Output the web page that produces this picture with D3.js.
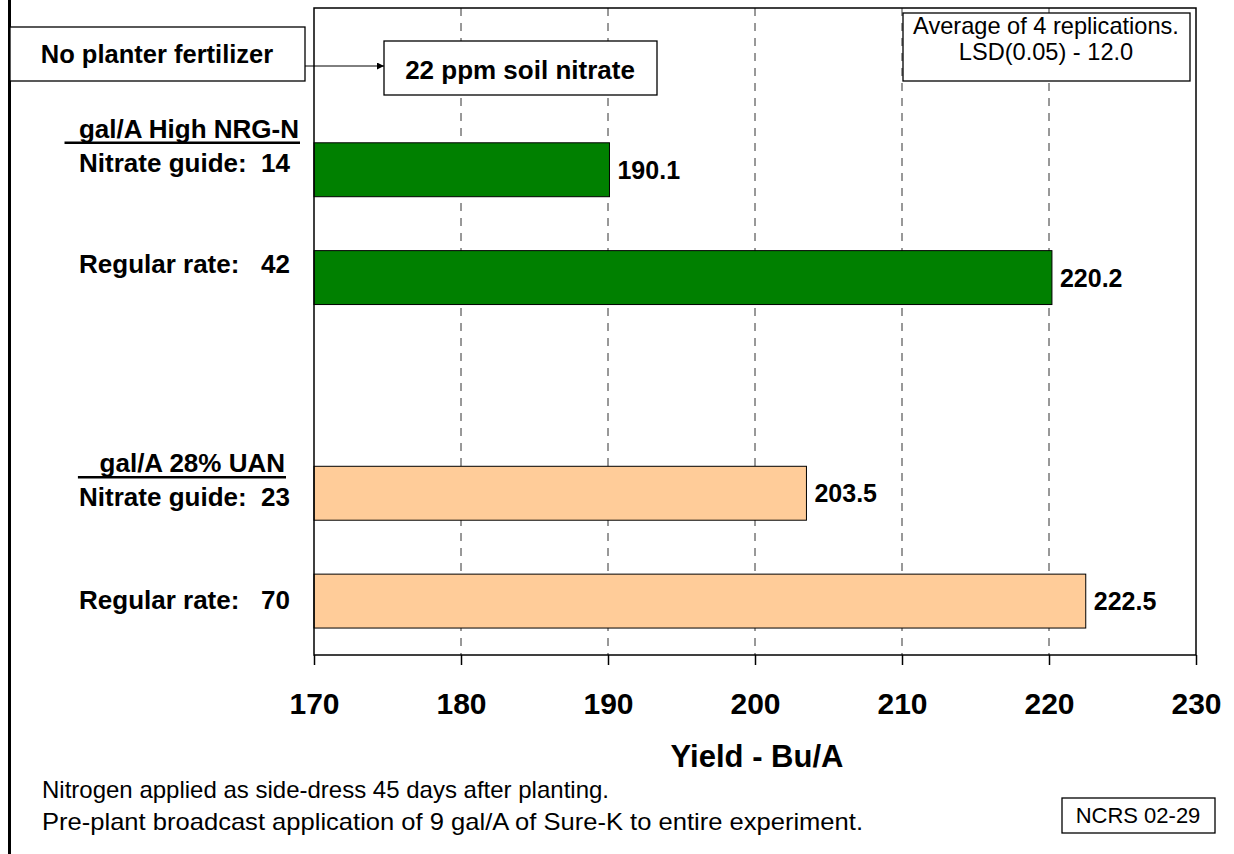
<!DOCTYPE html>
<html>
<head>
<meta charset="utf-8">
<script src="https://cdn.jsdelivr.net/npm/d3@7"></script>
<style>
  body { margin: 0; background: #fff; }
  svg { display: block; font-family: "Liberation Sans", Arial, sans-serif; }
  text { white-space: pre; }
</style>
</head>
<body>
<div id="chart"></div>
<script>
// Yield response to side-dress N, NCRS 02-29

// Band slots down the plot (blank slots leave the gaps between groups)
const slots = ["top", "nrgGuide", "nrgRegular", "gap", "uanGuide", "uanRegular"];

// One entry per bar
const barSlots  = ["nrgGuide", "nrgRegular", "uanGuide", "uanRegular"];
const barLabels = ["Nitrate guide:  14", "Regular rate:   42", "Nitrate guide:  23", "Regular rate:   70"];
const yields    = [190.1, 220.2, 203.5, 222.5];
const barColors = ["#008000", "#008000", "#ffcc99", "#ffcc99"];

// Group headings sit above the first bar of each group
const groupHeads = ["  gal/A High NRG-N", "   gal/A 28% UAN"];
const groupFirst = ["nrgGuide", "uanGuide"];

const xTicks = [170, 180, 190, 200, 210, 220, 230];
const noteLines = [
  "Nitrogen applied as side-dress 45 days after planting.",
  "Pre-plant broadcast application of 9 gal/A of Sure-K to entire experiment."
];
const statLines = ["Average of 4 replications.", "LSD(0.05) - 12.0"];

// Layout
const W = 1234, H = 854;
const plot = { left: 314, right: 1196, top: 8, bottom: 655 };
// small nudges for the hand placed text boxes in the original
const labelDy = [2, -5, 13, 8];
const headDy  = [-5, 6];
const headEnd = [299, 285];
const noteWidth = [567, 821];

const svg = d3.select("#chart").append("svg")
  .attr("width", W)
  .attr("height", H);

const x = d3.scaleLinear()
  .domain([xTicks[0], xTicks[xTicks.length - 1]])
  .range([plot.left, plot.right]);

const y = d3.scaleBand()
  .domain(slots)
  .range([plot.top, plot.bottom])
  .paddingInner(0.5)
  .paddingOuter(0.25);

// Thick rule down the left edge of the page
svg.append("line")
  .attr("x1", 9.5).attr("x2", 9.5)
  .attr("y1", 0).attr("y2", H)
  .attr("stroke", "#000")
  .attr("stroke-width", 3);

// Dashed gridlines
svg.append("g")
  .selectAll("line")
  .data(xTicks.slice(1, -1))
  .join("line")
  .attr("x1", d => x(d)).attr("x2", d => x(d))
  .attr("y1", plot.top).attr("y2", plot.bottom)
  .attr("stroke", "#333")
  .attr("stroke-width", 1)
  .attr("stroke-dasharray", "8,7");

// Bars
svg.append("g")
  .selectAll("rect")
  .data(yields)
  .join("rect")
  .attr("x", x(xTicks[0]))
  .attr("y", (d, i) => y(barSlots[i]))
  .attr("width", d => x(d) - x(xTicks[0]))
  .attr("height", y.bandwidth())
  .attr("fill", (d, i) => barColors[i])
  .attr("stroke", "#000")
  .attr("stroke-width", 1);

// Plot frame
svg.append("rect")
  .attr("x", plot.left).attr("y", plot.top)
  .attr("width", plot.right - plot.left)
  .attr("height", plot.bottom - plot.top)
  .attr("fill", "none")
  .attr("stroke", "#000")
  .attr("stroke-width", 1.5);

// Value labels at bar ends
svg.append("g")
  .selectAll("text")
  .data(yields)
  .join("text")
  .attr("x", d => x(d) + 8)
  .attr("y", (d, i) => y(barSlots[i]) + y.bandwidth() / 2 + 9)
  .attr("font-size", 25)
  .attr("font-weight", "bold")
  .text(d => d.toFixed(1));

// Bar labels on the left
svg.append("g")
  .selectAll("text")
  .data(barLabels)
  .join("text")
  .attr("x", 290)
  .attr("y", (d, i) => y(barSlots[i]) + y.bandwidth() / 2 + labelDy[i])
  .attr("text-anchor", "end")
  .attr("font-size", 26)
  .attr("font-weight", "bold")
  .text(d => d);

// Underlined group headings
groupHeads.forEach((h, i) => {
  const base = y(groupFirst[i]) + headDy[i];
  const t = svg.append("text")
    .attr("x", headEnd[i])
    .attr("y", base)
    .attr("text-anchor", "end")
    .attr("font-size", 26)
    .attr("font-weight", "bold")
    .text(h);
  const len = t.node().getComputedTextLength();
  svg.append("line")
    .attr("x1", headEnd[i] - len).attr("x2", headEnd[i] + 1)
    .attr("y1", base + 5).attr("y2", base + 5)
    .attr("stroke", "#000")
    .attr("stroke-width", 2.5);
});

// X axis
const xAxis = svg.append("g")
  .attr("transform", `translate(0,${plot.bottom})`)
  .call(d3.axisBottom(x).tickValues(xTicks).tickSize(10).tickSizeOuter(0));
xAxis.select(".domain").remove();
xAxis.selectAll(".tick line").attr("stroke", "#000").attr("stroke-width", 1.5);
xAxis.selectAll(".tick text")
  .attr("y", 59)
  .attr("dy", null)
  .attr("fill", "#000")
  .attr("font-family", "Liberation Sans, Arial, sans-serif")
  .attr("font-size", 30)
  .attr("font-weight", "bold");

svg.append("text")
  .attr("x", 757).attr("y", 767)
  .attr("text-anchor", "middle")
  .attr("font-size", 31)
  .attr("font-weight", "bold")
  .text("Yield - Bu/A");

// Boxed callouts
function box(x0, y0, w, h) {
  svg.append("rect")
    .attr("x", x0).attr("y", y0)
    .attr("width", w).attr("height", h)
    .attr("fill", "#fff")
    .attr("stroke", "#000")
    .attr("stroke-width", 1.3);
}

box(10, 27, 295, 54);
svg.append("text")
  .attr("x", 157).attr("y", 63)
  .attr("text-anchor", "middle")
  .attr("font-size", 25.5).attr("font-weight", "bold")
  .text("No planter fertilizer");

// Arrow between the two boxes
svg.append("defs").append("marker")
  .attr("id", "arrow")
  .attr("viewBox", "0 0 10 10")
  .attr("refX", 10).attr("refY", 5)
  .attr("markerWidth", 9).attr("markerHeight", 7)
  .attr("markerUnits", "userSpaceOnUse")
  .attr("orient", "auto")
  .append("path")
  .attr("d", "M0,0L10,5L0,10Z")
  .attr("fill", "#000");

svg.append("line")
  .attr("x1", 305).attr("x2", 384)
  .attr("y1", 66).attr("y2", 66)
  .attr("stroke", "#000")
  .attr("stroke-width", 1)
  .attr("marker-end", "url(#arrow)");

box(384, 41, 273, 54);
svg.append("text")
  .attr("x", 520).attr("y", 79)
  .attr("text-anchor", "middle")
  .attr("font-size", 26).attr("font-weight", "bold")
  .text("22 ppm soil nitrate");

box(903, 13, 287, 68);
svg.append("g")
  .selectAll("text")
  .data(statLines)
  .join("text")
  .attr("x", 1046)
  .attr("y", (d, i) => 34 + i * 26)
  .attr("text-anchor", "middle")
  .attr("font-size", 23.6)
  .text(d => d);

// Footnotes
svg.append("g")
  .selectAll("text")
  .data(noteLines)
  .join("text")
  .attr("x", 42)
  .attr("y", (d, i) => 798 + i * 32)
  .attr("font-size", 24)
  .attr("textLength", (d, i) => noteWidth[i])
  .attr("lengthAdjust", "spacingAndGlyphs")
  .text(d => d);

box(1062, 798, 153, 35);
svg.append("text")
  .attr("x", 1138).attr("y", 823)
  .attr("text-anchor", "middle")
  .attr("font-size", 22)
  .text("NCRS 02-29");
</script>
</body>
</html>
